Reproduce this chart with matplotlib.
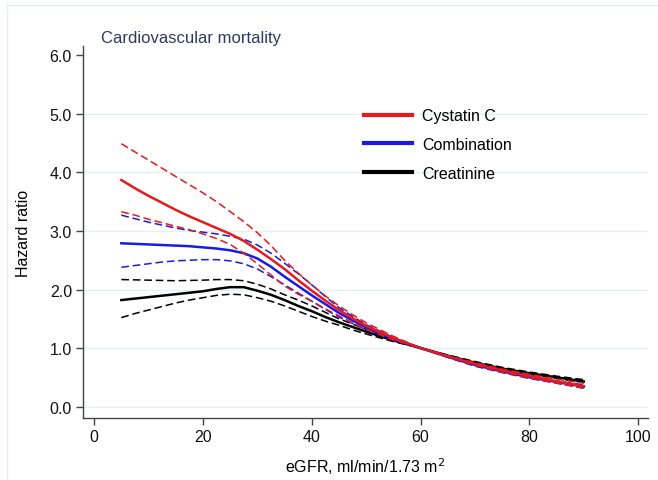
import numpy as np
import matplotlib
matplotlib.use("Agg")
import matplotlib.pyplot as plt
from matplotlib.lines import Line2D

plt.rcParams['font.family'] = ['Liberation Sans', 'DejaVu Sans']

# eGFR grid and hazard ratio curves (estimate, lower/upper CI)
egfr = [5, 7.5, 10, 12.5, 15, 17.5, 20, 22.5, 25, 27.5, 30, 32.5, 35, 37.5, 40, 42.5, 45, 47.5, 50,
        55, 60, 65, 70, 75, 80, 85, 90]

cys_hr = [3.87, 3.73, 3.60, 3.48, 3.36, 3.25, 3.15, 3.05, 2.95, 2.83, 2.68, 2.52, 2.35, 2.16, 1.98, 1.81, 1.65, 1.51, 1.38,
          1.17, 1.00, 0.86, 0.73, 0.62, 0.52, 0.43, 0.35]
cys_hi = [4.49, 4.35, 4.21, 4.07, 3.93, 3.79, 3.65, 3.50, 3.33, 3.16, 2.97, 2.75, 2.50, 2.28, 2.08, 1.89, 1.72, 1.57, 1.43,
          1.20, 1.00, 0.87, 0.75, 0.64, 0.55, 0.47, 0.40]
cys_lo = [3.33, 3.27, 3.20, 3.14, 3.08, 3.02, 2.95, 2.87, 2.77, 2.62, 2.44, 2.25, 2.06, 1.92, 1.80, 1.67, 1.55, 1.43, 1.32,
          1.14, 1.00, 0.85, 0.71, 0.59, 0.49, 0.40, 0.31]

comb_hr = [2.79, 2.78, 2.77, 2.76, 2.75, 2.74, 2.72, 2.70, 2.67, 2.62, 2.53, 2.39, 2.22, 2.06, 1.90, 1.75, 1.60, 1.47, 1.35,
           1.15, 1.00, 0.85, 0.71, 0.60, 0.50, 0.42, 0.34]
comb_hi = [3.27, 3.21, 3.15, 3.10, 3.05, 3.01, 2.98, 2.95, 2.91, 2.86, 2.76, 2.62, 2.45, 2.27, 2.08, 1.88, 1.69, 1.54, 1.40,
           1.18, 1.00, 0.86, 0.73, 0.62, 0.52, 0.44, 0.37]
comb_lo = [2.38, 2.41, 2.44, 2.47, 2.49, 2.50, 2.51, 2.51, 2.49, 2.44, 2.35, 2.22, 2.08, 1.94, 1.80, 1.66, 1.53, 1.42, 1.31,
           1.13, 1.00, 0.84, 0.69, 0.58, 0.48, 0.40, 0.32]

crea_hr = [1.82, 1.845, 1.87, 1.895, 1.92, 1.945, 1.97, 2.01, 2.04, 2.04, 1.98, 1.91, 1.82, 1.72, 1.63, 1.53, 1.44, 1.36, 1.28,
           1.13, 1.00, 0.87, 0.75, 0.65, 0.57, 0.50, 0.43]
crea_hi = [2.17, 2.165, 2.16, 2.155, 2.15, 2.155, 2.16, 2.17, 2.17, 2.15, 2.09, 2.01, 1.91, 1.82, 1.72, 1.61, 1.50, 1.41, 1.32,
           1.15, 1.00, 0.88, 0.77, 0.67, 0.59, 0.52, 0.46]
crea_lo = [1.52, 1.59, 1.65, 1.71, 1.77, 1.82, 1.86, 1.90, 1.92, 1.91, 1.86, 1.80, 1.72, 1.63, 1.54, 1.46, 1.39, 1.31, 1.24,
           1.11, 1.00, 0.86, 0.73, 0.63, 0.55, 0.48, 0.41]

series = [
    ("Cystatin C", "#e8191c", cys_hr, cys_lo, cys_hi),
    ("Combination", "#1a1ae6", comb_hr, comb_lo, comb_hi),
    ("Creatinine", "#000000", crea_hr, crea_lo, crea_hi),
]

fig = plt.figure(figsize=(6.58, 4.81), dpi=100)
ax = fig.add_axes([83 / 658, 1 - 419.3 / 481, (648 - 83) / 658, (419.3 - 47) / 481])

# draw creatinine first so the coloured ones sit on top
for name, col, hr, lo, hi in series[::-1]:
    ax.plot(egfr, lo, color=col, lw=1.1, ls=(0, (5, 2.5)))
    ax.plot(egfr, hi, color=col, lw=1.1, ls=(0, (5, 2.5)))
    ax.plot(egfr, hr, color=col, lw=1.8)

ax.set_xlim(-2.05, 101.8)
ax.set_ylim(-0.2, 6.16)
ax.set_xticks([0, 20, 40, 60, 80, 100])
ax.set_yticks([0, 1, 2, 3, 4, 5, 6])
ax.set_yticklabels(["%.1f" % v for v in range(7)])
for v in range(6):
    ax.axhline(v, color="#e6eff2", lw=1, zorder=0)

for s in ["top", "right"]:
    ax.spines[s].set_visible(False)
for s in ["left", "bottom"]:
    ax.spines[s].set_color("#444444")
    ax.spines[s].set_linewidth(1)
ax.tick_params(direction="out", length=5, width=1, color="#444444",
               labelsize=11.5, labelcolor="#111111", pad=3)

ax.set_xlabel("eGFR, ml/min/1.73 m$^{2}$", fontsize=11.5, labelpad=8)
ax.set_ylabel("Hazard ratio", fontsize=11.5, labelpad=13)

fig.text(101 / 658, 1 - 43 / 481, "Cardiovascular mortality", fontsize=12,
         color="#2b3a63", ha="left", va="baseline")

handles = [Line2D([], [], color=c, lw=3) for _, c, _, _, _ in series]
ax.legend(handles, [n for n, _, _, _, _ in series], loc="upper left",
          bbox_to_anchor=(350 / 658, 1 - 95 / 481), bbox_transform=fig.transFigure,
          frameon=False, fontsize=11.5, handlelength=3.0, handletextpad=0.6,
          labelspacing=0.85)

# light frame round the graph region (left and top edges visible)
fig.add_artist(Line2D([7 / 658, 7 / 658], [0, 1 - 6 / 481], transform=fig.transFigure,
                      color="#e6eff2", lw=1))
fig.add_artist(Line2D([7 / 658, 1], [1 - 6 / 481, 1 - 6 / 481], transform=fig.transFigure,
                      color="#e6eff2", lw=1))

fig.savefig("out.png", dpi=100)
